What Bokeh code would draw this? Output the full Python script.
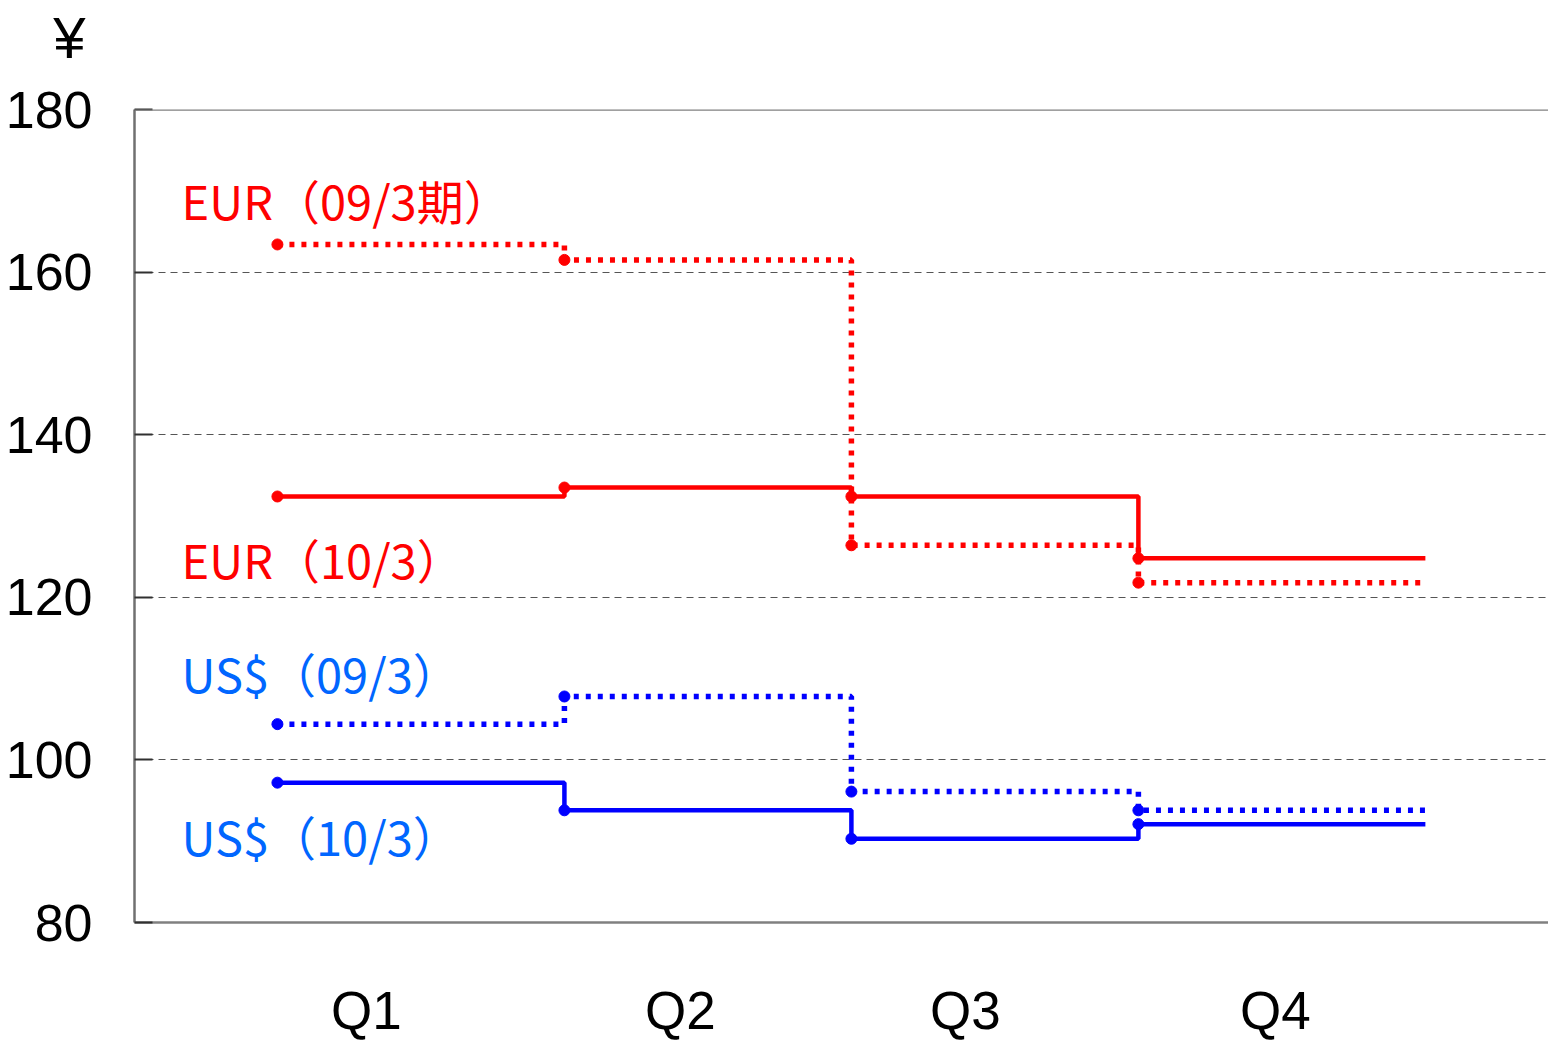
from bokeh.plotting import figure
from bokeh.layouts import column
from bokeh.models import (FixedTicker, CustomJSTickFormatter, Span, Range1d)
from bokeh.core.properties import value
from bokeh.embed import file_html
from bokeh.resources import INLINE

quarters = ["Q1", "Q2", "Q3", "Q4"]
eur_09 = [163.4, 161.5, 126.4, 121.8]
eur_10 = [132.4, 133.5, 132.4, 124.8]
usd_09 = [104.4, 107.8, 96.1, 93.8]
usd_10 = [97.2, 93.8, 90.3, 92.1]

series_labels = ["EUR（09/3期）", "EUR（10/3）", "US$（09/3）", "US$（10/3）"]
y_ticks = [80, 100, 120, 140, 160, 180]
unit_label = "¥"

RED = "#ff0000"
BLUE = "#0000ff"
LBLUE = "#0066ff"
SANS = "Liberation Sans"
JP = "Noto Sans CJK JP"

W, H = 1548, 1043
TOP_H = 70

# header strip: the unit sign is drawn as the single tick label of its left axis
hdr = figure(width=W, height=TOP_H, output_backend="svg", toolbar_location=None,
             x_range=Range1d(0, 1), y_range=Range1d(0, TOP_H),
             min_border_left=134, min_border_right=0, min_border_top=0, min_border_bottom=0,
             x_axis_type=None)
hdr.outline_line_color = None
hdr.xgrid.grid_line_color = None
hdr.ygrid.grid_line_color = None
hax = hdr.yaxis[0]
hax.ticker = FixedTicker(ticks=[TOP_H - 38])
hax.formatter = CustomJSTickFormatter(args=dict(u=unit_label), code="return u")
hax.axis_line_color = None
hax.major_tick_line_color = None
hax.minor_tick_line_color = None
hax.major_label_standoff = 43
hax.major_label_text_font = SANS
hax.major_label_text_font_size = "58px"
hax.major_label_text_color = "black"

p = figure(width=W, height=H - TOP_H, output_backend="svg", toolbar_location=None,
           x_range=Range1d(-0.498, 4.429), y_range=Range1d(80, 180),
           min_border_left=134, min_border_right=0, min_border_top=109 - TOP_H,
           min_border_bottom=H - 922)
p.outline_line_color = None
p.background_fill_color = "white"
p.border_fill_color = "white"

# y axis
yax = p.yaxis[0]
yax.ticker = FixedTicker(ticks=y_ticks)
yax.axis_line_color = "#707070"
yax.axis_line_width = 2.5
yax.major_tick_in = 18
yax.major_tick_out = 0
yax.major_tick_line_color = "#303030"
yax.major_tick_line_width = 2
yax.minor_tick_line_color = None
yax.major_label_standoff = 42
yax.major_label_text_font = SANS
yax.major_label_text_font_size = "52px"
yax.major_label_text_color = "black"

# x axis
xax = p.xaxis[0]
xax.ticker = FixedTicker(ticks=[0.31, 1.404, 2.397, 3.477])
xax.formatter = CustomJSTickFormatter(args=dict(names=quarters), code="return names[index]")
xax.axis_line_color = "#808080"
xax.axis_line_width = 2.5
xax.major_tick_line_color = None
xax.minor_tick_line_color = None
xax.major_label_standoff = 52
xax.major_label_text_font = SANS
xax.major_label_text_font_size = "53px"
xax.major_label_text_color = "black"

p.xgrid.grid_line_color = None
p.ygrid.ticker = FixedTicker(ticks=[100, 120, 140, 160])
p.ygrid.grid_line_color = "#555555"
p.ygrid.grid_line_dash = "7 5"
p.ygrid.grid_line_width = 1

p.add_layout(Span(location=180, dimension="width", line_color="#808080", line_width=2.5))

xs = list(range(len(quarters)))
xs_step = xs + [len(quarters)]

def steps(vals, color, dotted):
    ys = vals + [vals[-1]]
    kw = dict(line_color=color, line_width=5.5 if dotted else 4.5)
    if dotted:
        kw["line_dash"] = "5 7"
    p.step(xs_step, ys, mode="after", **kw)
    p.scatter(xs, vals, size=11, color=color)

steps(eur_09, RED, True)
steps(eur_10, RED, False)
steps(usd_09, BLUE, True)
steps(usd_10, BLUE, False)

label_x = [-0.334] * 4
label_y = [168.9, 124.8, 110.7, 90.7]
label_colors = [RED, RED, LBLUE, LBLUE]
p.text(x=label_x, y=label_y, text=series_labels, text_color=label_colors,
       text_font=value(JP), text_font_size="47px", text_align="left", text_baseline="middle")

layout = column(hdr, p, spacing=0)
open("out.html", "w").write(file_html(layout, INLINE))
